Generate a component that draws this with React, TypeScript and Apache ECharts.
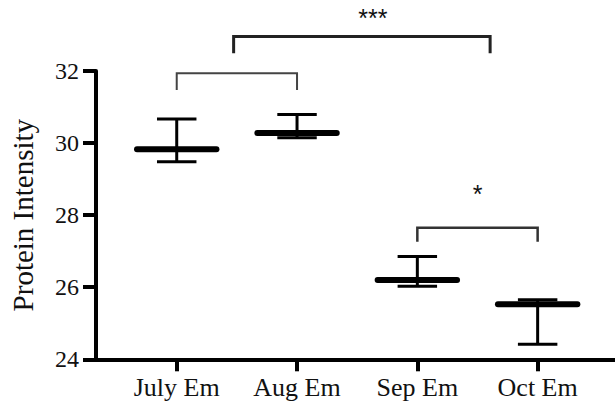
import React, { useEffect, useRef } from "react";
import * as echarts from "echarts";

const categories = ["July Em", "Aug Em", "Sep Em", "Oct Em"];
const positions = [1, 2, 3, 4];
const means = [29.83, 30.28, 26.2, 25.53];
const lower = [29.48, 30.15, 26.03, 24.42];
const upper = [30.67, 30.79, 26.85, 25.65];
const yMin = 24;
const yMax = 32;
const yStep = 2;

// significance brackets (in data units)
const bracketFrom = [1.473, 1, 3];
const bracketTo = [3.605, 2, 4];
const bracketTop = [32.96, 31.94, 27.65];
const bracketLeg = [32.49, 31.47, 27.26];
const bracketLabels = ["***", "", "*"];
const bracketLabelX = [2.63, 1.5, 3.5];
const bracketLabelY = [33.46, 0, 28.58];
const bracketColors = ["#222", "#444", "#333"];
const bracketWidths = [3, 2, 2.5];

export default function App() {
  const ref = useRef<HTMLDivElement>(null);
  useEffect(() => {
    if (!ref.current) return;
    const chart = echarts.init(ref.current, null, { renderer: "svg" });
    const barData = positions.map((p, i) => [p, means[i], lower[i], upper[i]]);
    const brData = bracketFrom.map((f, i) => [f, bracketTo[i], bracketTop[i], bracketLeg[i], i]);
    const serif = "Liberation Serif";
    chart.setOption({
      animation: false,
      grid: { left: 90, right: 0, top: 71, bottom: 46.7 },
      xAxis: {
        type: "value",
        min: 0.329,
        max: 4.643,
        axisLine: { show: true, lineStyle: { color: "#000", width: 4 } },
        axisTick: { show: true, length: 12, lineStyle: { color: "#000", width: 4 }, customValues: positions },
        axisLabel: {
          show: true,
          customValues: positions,
          formatter: (v: number) => categories[Math.round(v) - 1] ?? "",
          fontFamily: serif,
          fontSize: 26,
          color: "#111",
          margin: 15,
        },
        splitLine: { show: false },
      },
      yAxis: {
        type: "value",
        min: yMin,
        max: yMax,
        interval: yStep,
        name: "Protein Intensity",
        nameLocation: "middle",
        nameGap: 59,
        nameTextStyle: { fontFamily: serif, fontSize: 29, color: "#111" },
        axisLine: { show: true, lineStyle: { color: "#000", width: 4 } },
        axisTick: { show: true, length: 13, lineStyle: { color: "#000", width: 4 } },
        axisLabel: { fontFamily: serif, fontSize: 24, color: "#111", margin: 17 },
        splitLine: { show: false },
      },
      series: [
        {
          type: "custom",
          clip: false,
          data: barData,
          encode: { x: 0, y: [1, 2, 3] },
          renderItem: (params: any, api: any) => {
            const x = api.value(0);
            const m = api.value(1);
            const lo = api.value(2);
            const hi = api.value(3);
            const unit = api.size([1, 0])[0];
            const pm = api.coord([x, m]);
            const pl = api.coord([x, lo]);
            const ph = api.coord([x, hi]);
            const meanHalf = 0.33 * unit;
            const capHalf = 0.164 * unit;
            const thin = { stroke: "#000", lineWidth: 3 };
            return {
              type: "group",
              children: [
                { type: "line", shape: { x1: pl[0], y1: pl[1], x2: ph[0], y2: ph[1] }, style: thin },
                { type: "line", shape: { x1: ph[0] - capHalf, y1: ph[1], x2: ph[0] + capHalf, y2: ph[1] }, style: thin },
                { type: "line", shape: { x1: pl[0] - capHalf, y1: pl[1], x2: pl[0] + capHalf, y2: pl[1] }, style: thin },
                {
                  type: "line",
                  shape: { x1: pm[0] - meanHalf, y1: pm[1], x2: pm[0] + meanHalf, y2: pm[1] },
                  style: { stroke: "#000", lineWidth: 6, lineCap: "round" },
                },
              ],
            };
          },
        },
        {
          type: "custom",
          clip: false,
          data: brData,
          encode: { x: [0, 1], y: [2, 3] },
          renderItem: (params: any, api: any) => {
            const x1 = api.value(0);
            const x2 = api.value(1);
            const top = api.value(2);
            const leg = api.value(3);
            const i = api.value(4);
            const a = api.coord([x1, leg]);
            const b = api.coord([x1, top]);
            const c = api.coord([x2, top]);
            const d = api.coord([x2, leg]);
            const children: any[] = [
              {
                type: "polyline",
                shape: { points: [a, b, c, d] },
                style: { stroke: bracketColors[i], lineWidth: bracketWidths[i], fill: null, lineJoin: "miter" },
              },
            ];
            if (bracketLabels[i]) {
              const t = api.coord([bracketLabelX[i], bracketLabelY[i]]);
              children.push({
                type: "text",
                x: t[0],
                y: t[1],
                style: {
                  text: bracketLabels[i],
                  fontFamily: "Liberation Sans",
                  fontSize: 25,
                  fill: "#111",
                  align: "center",
                  verticalAlign: "middle",
                },
              });
            }
            return { type: "group", children };
          },
        },
      ],
    });
    return () => chart.dispose();
  }, []);
  return (
    <div
      ref={ref}
      style={{ position: "fixed", left: 0, top: 0, width: 615, height: 406, background: "#fff" }}
    />
  );
}
